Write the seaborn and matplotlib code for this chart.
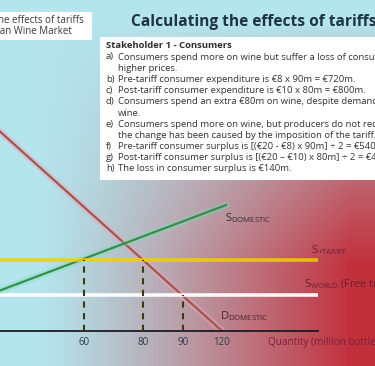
import numpy as np
import pandas as pd
import seaborn as sns
import matplotlib.pyplot as plt
from matplotlib.patches import Rectangle

# wine market (price in € per bottle, quantity in million bottles)
quantity_ticks = [60, 80, 90, 120]
demand_q = [0, 120]
demand_p = [20, 0]
supply_q = [0, 122]
supply_p = [1.2, 12.6]
tariff_price = 10
world_price = 8
tariff_q = [60, 80]   # domestic supply / demand at the tariff price
world_q = [90]        # demand at the world price
q_end = 163

title = "Calculating the effects of tariffs"
box_title = "Stakeholder 1 - Consumers"
box_lines = [
    ("a)", "Consumers spend more on wine but suffer a loss of consumer surplus due to"),
    ("", "higher prices."),
    ("b)", "Pre-tariff consumer expenditure is €8 x 90m = €720m."),
    ("c)", "Post-tariff consumer expenditure is €10 x 80m = €800m."),
    ("d)", "Consumers spend an extra €80m on wine, despite demand falling for"),
    ("", "wine."),
    ("e)", "Consumers spend more on wine, but producers do not receive more as"),
    ("", "the change has been caused by the imposition of the tariff."),
    ("f)", "Pre-tariff consumer surplus is [(€20 - €8) x 90m] ÷ 2 = €540m."),
    ("g)", "Post-tariff consumer surplus is [(€20 – €10) x 80m] ÷ 2 = €400m."),
    ("h)", "The loss in consumer surplus is €140m."),
]

sns.set_style("white")
plt.rcParams['font.family'] = ['Open Sans', 'DejaVu Sans']
plt.rcParams['mathtext.fontset'] = 'custom'
plt.rcParams['mathtext.rm'] = 'Open Sans'

W, H = 375, 366
fig = plt.figure(figsize=(W / 100, H / 100), dpi=100)

def fx(px):
    return px / W

def fy(py):
    return 1 - py / H

# background gradient: cyan on the left, red towards the bottom right
bg = fig.add_axes([0, 0, 1, 1], zorder=-2)
yy, xx = np.mgrid[0:H, 0:W]
t = np.clip((xx - 40) / 310, 0, 1) ** 1.2 * np.clip((yy - 25) / 240, 0, 1) ** 0.8
cyan = np.array([180, 228, 236]) / 255
red = np.array([194, 48, 60]) / 255
img = cyan * (1 - t[..., None]) + red * t[..., None]
bg.imshow(img, aspect='auto', extent=(0, W, H, 0))
bg.axis('off')

# schematic (not to scale) axes
q_knots = [0, 60, 80, 90, 120, 200]
q_pos = [-93, 84, 143, 183, 222, 400]
p_knots = [0, 8, 10, 20, 30]
p_pos = [0, 36, 71, 283, 495]

ax = fig.add_axes([0, 35 / H, 1, 331 / H], zorder=0)
ax.patch.set_alpha(0)
ax.set_xscale('function', functions=(lambda v: np.interp(v, q_knots, q_pos),
                                     lambda v: np.interp(v, q_pos, q_knots)))
ax.set_yscale('function', functions=(lambda v: np.interp(v, p_knots, p_pos),
                                     lambda v: np.interp(v, p_pos, p_knots)))
x0 = np.interp(0, q_pos, q_knots)
x1 = np.interp(W, q_pos, q_knots)
ax.set_xlim(x0, x1)
ax.set_ylim(0, np.interp(331, p_pos, p_knots))

demand = pd.DataFrame({'q': demand_q, 'p': demand_p})
supply = pd.DataFrame({'q': supply_q, 'p': supply_p})

sns.lineplot(data=demand, x='q', y='p', ax=ax, color='#f2a0c0', lw=5, alpha=0.45)
sns.lineplot(data=demand, x='q', y='p', ax=ax, color='#9c5a48', lw=1.6)
sns.lineplot(data=supply, x='q', y='p', ax=ax, color='#74e3b5', lw=5, alpha=0.35)
sns.lineplot(data=supply, x='q', y='p', ax=ax, color='#3a8c4c', lw=1.6)

ax.hlines(tariff_price, x0, q_end, color='#f2d000', lw=2.6, alpha=0.85, zorder=3)
ax.hlines(world_price, x0, q_end, color='white', lw=2.6, alpha=0.95, zorder=3)
ax.vlines(tariff_q, 0, tariff_price, colors='#3d3a12', linestyles=(0, (3, 2.6)), lw=1.5, zorder=4)
ax.vlines(world_q, 0, world_price, colors='#3d3a12', linestyles=(0, (3, 2.6)), lw=1.5, zorder=4)

sns.despine(ax=ax, left=True)
ax.spines['bottom'].set_bounds(x0, q_end)
ax.spines['bottom'].set_color('#1c1a26')
ax.spines['bottom'].set_linewidth(1.3)
ax.set_yticks([])
ax.set_xticks(quantity_ticks)
ax.set_xticklabels([str(q) for q in quantity_ticks])
ax.tick_params(axis='x', length=0, pad=4.5, labelsize=7, labelcolor='#2b3b4d')
ax.set_xlabel('')
ax.set_ylabel('')
ax.minorticks_off()

# line labels
fig.text(fx(225), fy(218), r'S$_{\mathregular{DOMESTIC}}$', color='#3b2a35', fontsize=8, va='center')
fig.text(fx(311), fy(250), r'S$_{\mathregular{+TARIFF}}$', color='#6e1e30', fontsize=8, va='center')
fig.text(fx(304), fy(284), r'S$_{\mathregular{WORLD}}$ (Free trade)', color='#6e1e30', fontsize=7.8, va='center')
fig.text(fx(220), fy(316), r'D$_{\mathregular{DOMESTIC}}$', color='#4a1e2c', fontsize=8, va='center')
fig.text(fx(268), fy(343), 'Quantity (million bottles)', color='#7d2040', fontsize=7.2, va='center')

# headings
fig.patches.append(Rectangle((0, fy(40)), fx(92), fy(12) - fy(40), transform=fig.transFigure,
                             facecolor='white', edgecolor='none', zorder=1))
fig.text(fx(84), fy(21), 'Calculating the effects of tariffs', ha='right', va='center',
         color='#3a3a3a', fontsize=7, zorder=3)
fig.text(fx(72), fy(32), 'on the Australian Wine Market', ha='right', va='center',
         color='#3a3a3a', fontsize=7, zorder=3)
fig.text(fx(131), fy(22), title, ha='left', va='center', color='#1e3442',
         fontsize=11.2, fontweight='bold', zorder=3)

# consumer text box
fig.patches.append(Rectangle((fx(100), fy(180)), 1 - fx(100), fy(37) - fy(180), transform=fig.transFigure,
                             facecolor='white', edgecolor='none', zorder=1))
fig.text(fx(106), fy(45), box_title, ha='left', va='center', color='#2e2e2e',
         fontsize=6.8, fontweight='bold', zorder=3)
for i, (tag, line) in enumerate(box_lines):
    y = fy(57 + i * 11.2)
    if tag:
        fig.text(fx(106), y, tag, ha='left', va='center', color='#333333', fontsize=6.8, zorder=3)
    fig.text(fx(118), y, line, ha='left', va='center', color='#333333', fontsize=6.8, zorder=3)

fig.savefig('out.png', dpi=100)
